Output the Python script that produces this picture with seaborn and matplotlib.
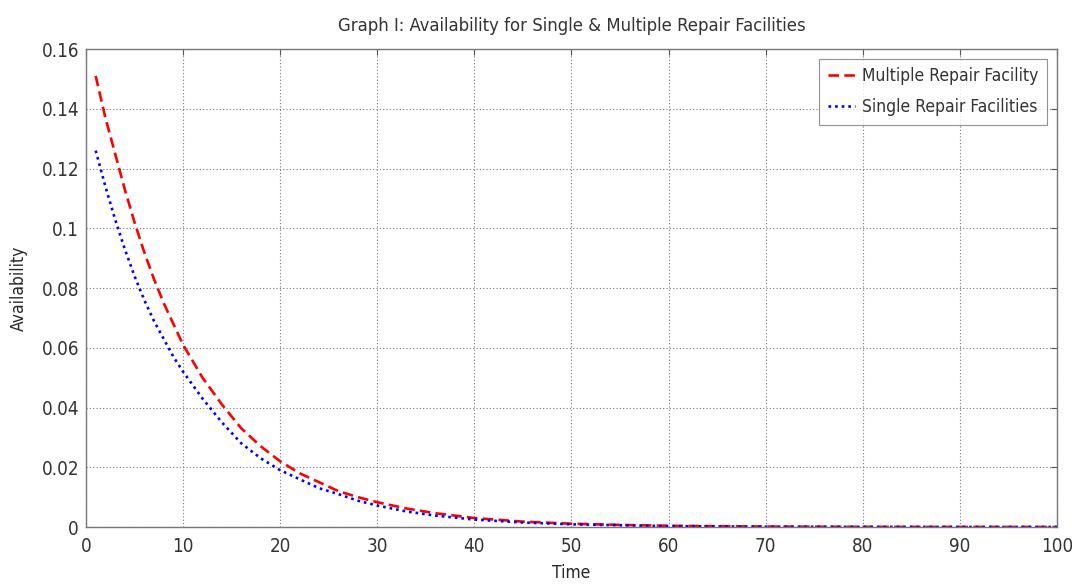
import numpy as np
import pandas as pd
import matplotlib
matplotlib.use("Agg")
import matplotlib.pyplot as plt
import seaborn as sns
from matplotlib.ticker import FuncFormatter
from matplotlib import font_manager

# ---- data ----
time = [1, 2, 3, 4, 5, 6, 7, 8, 9, 10, 12, 14, 16, 18, 20, 22, 24, 26, 28, 30,
        33, 36, 40, 45, 50, 55, 60, 70, 80, 90, 100]
multiple = [0.151, 0.137, 0.125, 0.113, 0.102, 0.092, 0.083, 0.075, 0.068, 0.061,
            0.050, 0.041, 0.033, 0.027, 0.022, 0.018, 0.015, 0.012, 0.010, 0.0083,
            0.0062, 0.0046, 0.0030, 0.0018, 0.0011, 0.0007, 0.0004, 0.00015, 0.00005,
            0.00002, 0.00001]
single = [0.126, 0.114, 0.103, 0.093, 0.084, 0.076, 0.069, 0.063, 0.057, 0.052,
          0.043, 0.035, 0.028, 0.023, 0.019, 0.016, 0.013, 0.011, 0.0088, 0.0072,
          0.0052, 0.0038, 0.0025, 0.0015, 0.0009, 0.0006, 0.0003, 0.0001, 0.00004,
          0.00002, 0.00001]
series_names = ["Multiple Repair Facility", "Single Repair Facilities"]
x_ticks = [0, 10, 20, 30, 40, 50, 60, 70, 80, 90, 100]
y_ticks = [0, 0.02, 0.04, 0.06, 0.08, 0.1, 0.12, 0.14, 0.16]
title = "Graph I: Availability for Single & Multiple Repair Facilities"

df = pd.DataFrame({
    "Time": time * 2,
    "Availability": multiple + single,
    "Series": [series_names[0]] * len(time) + [series_names[1]] * len(time),
})

sns.set_style("white")
names = {f.name for f in font_manager.fontManager.ttflist}
narrow = [n for n in ["Liberation Sans Narrow", "DejaVu Sans Condensed"] if n in names]
plt.rcParams["font.family"] = narrow + ["DejaVu Sans"]
plt.rcParams["font.stretch"] = "condensed"
plt.rcParams["text.color"] = "#333333"

fig = plt.figure(figsize=(10.72, 5.84), dpi=100)
ax = fig.add_axes([0.0802, 0.0976, 0.9058, 0.8184])

sns.lineplot(data=df, x="Time", y="Availability", hue="Series", style="Series",
             palette={series_names[0]: "#ff0000", series_names[1]: "#0000ff"},
             dashes={series_names[0]: (4, 2), series_names[1]: (1, 1.5)},
             linewidth=1.9, ax=ax, legend=True)

ax.set_xlim(0, 100)
ax.set_ylim(0, 0.16)
ax.set_xticks(x_ticks)
ax.set_yticks(y_ticks)
ax.yaxis.set_major_formatter(FuncFormatter(lambda v, p: ("%g" % round(v, 2))))
ax.grid(True, linestyle=(0, (1, 2)), color="#777777", linewidth=0.8)
ax.tick_params(axis="both", direction="in", length=4, top=True, right=True,
               labelsize=13.5, colors="#555555", labelcolor="#333333")
ax.tick_params(axis="x", pad=7)
ax.tick_params(axis="y", pad=5)
for s in ax.spines.values():
    s.set_color("#777777")
    s.set_linewidth(1.0)

ax.set_xlabel("Time", fontsize=12.5, labelpad=6)
ax.set_ylabel("Availability", fontsize=12.5, labelpad=10)
ax.set_title(title, fontsize=13.2, pad=13)

leg = ax.legend(loc="upper right", fontsize=12.5, frameon=True, fancybox=False,
                edgecolor="#777777", handlelength=1.6, handletextpad=0.4,
                borderpad=0.5, labelspacing=0.75, borderaxespad=0.55)
leg.get_frame().set_linewidth(0.8)

fig.savefig("out.png", dpi=100)
